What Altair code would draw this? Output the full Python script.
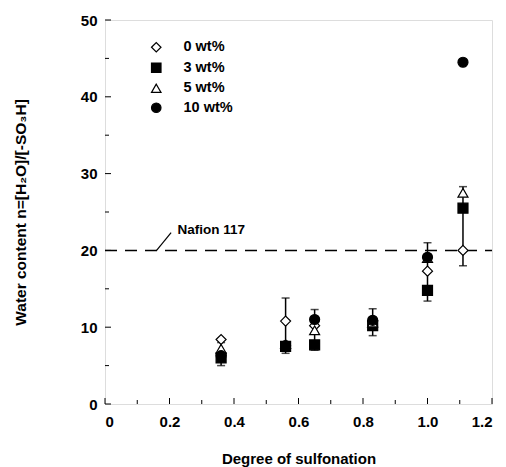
import altair as alt
import pandas as pd

# ---- data ----
dos = [0.36, 0.56, 0.65, 0.83, 1.00, 1.11]
wt0 = [8.4, 10.8, 10.2, 10.8, 17.3, 20.0]
wt3 = [6.0, 7.5, 7.7, 10.2, 14.8, 25.5]
wt5 = [7.2, 7.8, 9.6, 10.6, 19.0, 27.5]
wt10 = [6.3, 7.6, 11.0, 10.9, 19.1, 44.5]
series = ["0 wt%", "3 wt%", "5 wt%", "10 wt%"]
err_lo = [5.0, 6.6, 7.0, 8.9, 13.4, 18.0]
err_hi = [8.0, 13.8, 12.3, 12.4, 21.0, 28.3]
nafion_value = [20]
nafion_label = ["Nafion 117"]
x_major = [0, 0.2, 0.4, 0.6, 0.8, 1.0, 1.2]
x_minor = [0.1, 0.3, 0.5, 0.7, 0.9, 1.1]
y_major = [0, 10, 20, 30, 40, 50]
y_minor = [5, 15, 25, 35, 45]

FONT = "Liberation Sans"
W, H = 387, 384

rows = []
for name, vals in zip(series, [wt0, wt3, wt5, wt10]):
    for xv, yv in zip(dos, vals):
        rows.append({"dos": xv, "n": yv, "series": name})
pts = pd.DataFrame(rows)
err = pd.DataFrame({"dos": dos, "lo": err_lo, "hi": err_hi})
caps = pd.DataFrame({"dos": dos + dos, "v": err_lo + err_hi})

xs = alt.Scale(domain=[0, 1.2], nice=False, zero=False)
ys = alt.Scale(domain=[0, 50], nice=False, zero=False)

xaxis = alt.Axis(values=x_major, ticks=False, domain=False, grid=False,
                 labelExpr="datum.value == 0 ? '0' : format(datum.value, '.1f')",
                 labelFont=FONT, labelFontSize=15, labelFontWeight="bold",
                 labelColor="black", labelPadding=10,
                 title="Degree of sulfonation", titleFont=FONT, titleFontSize=15,
                 titleFontWeight="bold", titleColor="black", titlePadding=22)
yaxis = alt.Axis(values=y_major, ticks=False, domain=False, grid=False,
                 labelFont=FONT, labelFontSize=15, labelFontWeight="bold",
                 labelColor="black", labelPadding=8,
                 title="Water content  n=[H₂O]/[-SO₃H]", titleFont=FONT,
                 titleFontSize=15.5, titleFontWeight="bold", titleColor="black",
                 titlePadding=52)


def leg():
    return alt.Legend(title=None, orient="none", legendX=44, legendY=20,
                      labelFont=FONT, labelFontSize=14.5,
                      labelFontWeight="bold", labelColor="black",
                      labelOffset=20, rowPadding=4.5, padding=0,
                      symbolSize=90, symbolStrokeWidth=1.2)


errbars = alt.Chart(err).mark_rule(color="black", strokeWidth=1.5).encode(
    x=alt.X("dos:Q", scale=xs, axis=xaxis),
    y=alt.Y("lo:Q", scale=ys, axis=yaxis),
    y2="hi:Q",
)
errcaps = alt.Chart(caps).mark_tick(color="black", orient="horizontal", size=8,
                                    thickness=1.5).encode(
    x=alt.X("dos:Q", scale=xs), y=alt.Y("v:Q", scale=ys))

points = alt.Chart(pts).mark_point(strokeWidth=1.2, opacity=1,
                                   fillOpacity=1).encode(
    x=alt.X("dos:Q", scale=xs),
    y=alt.Y("n:Q", scale=ys),
    shape=alt.Shape("series:N", sort=series,
                    scale=alt.Scale(domain=series,
                                    range=["diamond", "square", "triangle-up", "circle"]),
                    legend=leg()),
    fill=alt.Fill("series:N", sort=series,
                  scale=alt.Scale(domain=series,
                                  range=["white", "black", "white", "black"]),
                  legend=leg()),
    stroke=alt.Stroke("series:N", sort=series,
                      scale=alt.Scale(domain=series,
                                      range=["black", "black", "black", "black"]),
                      legend=leg()),
    size=alt.value(100),
    order=alt.Order("ord:Q"),
).transform_calculate(ord="indexof(%s, datum.series)" % str(series))

naf = pd.DataFrame({"y": nafion_value})
nafline = alt.Chart(naf).mark_rule(color="black", strokeWidth=1.5,
                                   strokeDash=[12, 8]).encode(
    y=alt.Y("y:Q", scale=ys), x=alt.value(0), x2=alt.value(W))

ptr = pd.DataFrame({"x1": [0.16], "x2": [0.205], "y1": [20.0], "y2": [22.3]})
pointer = alt.Chart(ptr).mark_rule(color="black", strokeWidth=1.2).encode(
    x=alt.X("x1:Q", scale=xs), x2="x2:Q",
    y=alt.Y("y1:Q", scale=ys), y2="y2:Q")

lab = pd.DataFrame({"x": [0.225], "y": [22.6], "t": nafion_label})
naflabel = alt.Chart(lab).mark_text(align="left", baseline="middle", font=FONT,
                                    fontSize=13.5, fontWeight="bold",
                                    color="black").encode(
    x=alt.X("x:Q", scale=xs), y=alt.Y("y:Q", scale=ys), text="t:N")

# inward ticks
xmaj = alt.Chart(pd.DataFrame({"v": x_major})).mark_rule(color="black", strokeWidth=1).encode(
    x=alt.X("v:Q", scale=xs), y=alt.value(H), y2=alt.value(H - 6))
xmin = alt.Chart(pd.DataFrame({"v": x_minor})).mark_rule(color="black", strokeWidth=1).encode(
    x=alt.X("v:Q", scale=xs), y=alt.value(H), y2=alt.value(H - 4))
ymaj = alt.Chart(pd.DataFrame({"v": y_major})).mark_rule(color="black", strokeWidth=1).encode(
    y=alt.Y("v:Q", scale=ys), x=alt.value(0), x2=alt.value(6))
ymin = alt.Chart(pd.DataFrame({"v": y_minor})).mark_rule(color="black", strokeWidth=1).encode(
    y=alt.Y("v:Q", scale=ys), x=alt.value(0), x2=alt.value(4))

chart = alt.layer(errbars, errcaps, nafline, pointer, naflabel, points,
                  xmaj, xmin, ymaj, ymin).properties(
    width=W, height=H,
    autosize=alt.AutoSizeParams(type="none"),
    padding={"left": 105, "top": 20, "right": 14, "bottom": 63},
).configure_view(stroke="black", strokeWidth=1.3).configure(background="white")

chart.save("out.html", embed_options={"renderer": "svg", "actions": False})
